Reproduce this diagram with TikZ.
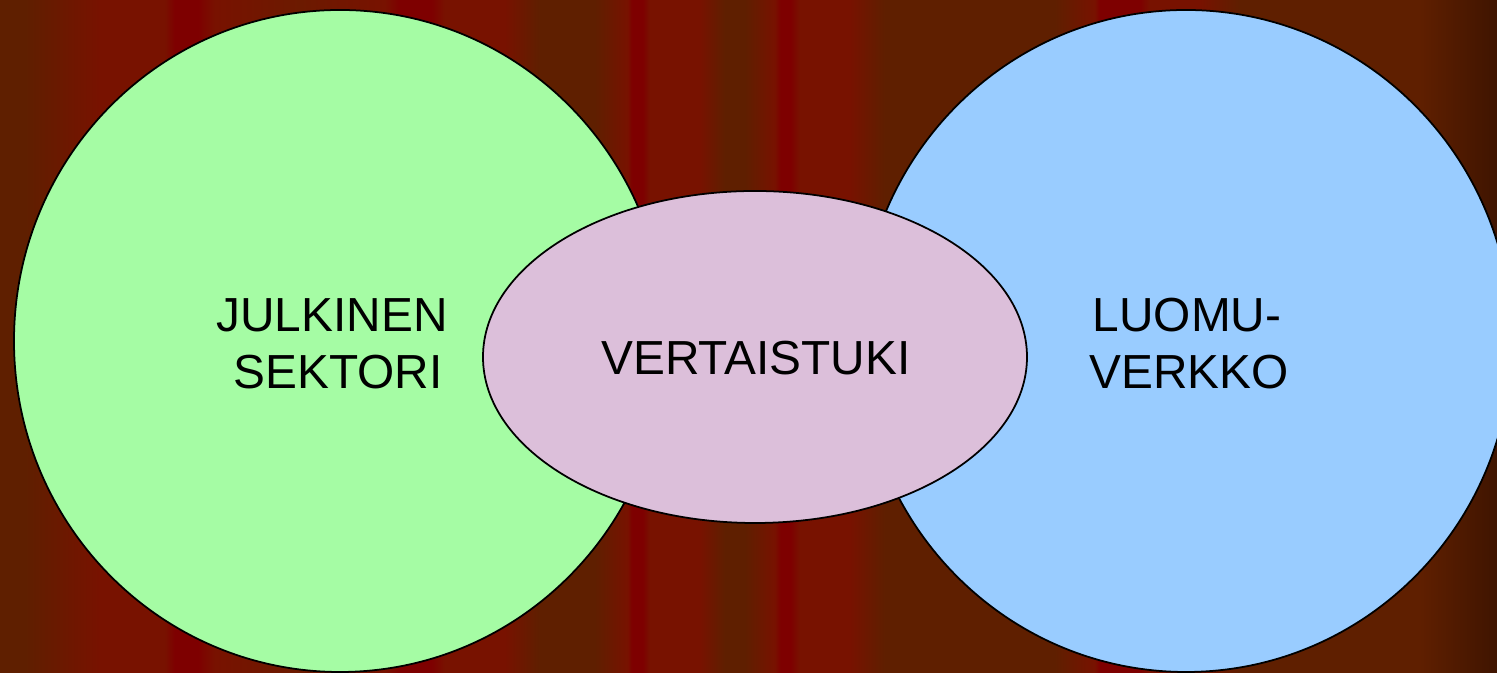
\documentclass[tikz,border=0pt]{standalone}
\usepackage{fontspec}
\setmainfont{Liberation Sans}
\definecolor{bgB}{RGB}{95,31,0}
\definecolor{bgR}{RGB}{120,18,0}
\definecolor{bgD}{RGB}{126,0,0}
\definecolor{bgM}{RGB}{108,26,0}
\definecolor{bgE}{RGB}{62,20,0}
\definecolor{julkgreen}{RGB}{165,252,164}
\definecolor{luomublue}{RGB}{153,204,255}
\definecolor{vertpink}{RGB}{220,191,218}
\pgfdeclarehorizontalshading{stripes}{6.75cm}{color(0cm)=(bgB); color(0.25cm)=(bgB);
  color(1cm)=(bgR); color(1.65cm)=(bgR); color(1.75cm)=(bgD); color(1.98cm)=(bgD);
  color(2.15cm)=(bgR); color(3cm)=(bgM); color(3.85cm)=(bgR); color(4cm)=(bgD);
  color(4.32cm)=(bgD); color(4.45cm)=(bgR); color(5.05cm)=(bgR); color(5.4cm)=(bgB);
  color(5.95cm)=(bgB); color(6.28cm)=(bgR); color(6.32cm)=(bgD); color(6.43cm)=(bgD);
  color(6.5cm)=(bgR); color(7cm)=(bgR); color(7.25cm)=(bgB); color(7.45cm)=(bgB);
  color(7.75cm)=(bgR); color(7.81cm)=(bgD); color(7.91cm)=(bgD); color(8cm)=(bgR);
  color(8.5cm)=(bgR); color(8.85cm)=(bgB); color(10.55cm)=(bgB); color(10.95cm)=(bgR);
  color(11cm)=(bgD); color(11.4cm)=(bgD); color(11.5cm)=(bgR); color(12cm)=(bgR);
  color(12.4cm)=(bgB); color(14.2cm)=(bgB); color(15cm)=(bgE)}
\tikzset{
  blob/.style={draw=black, line width=0.5pt},
  lbl/.style={font=\fontsize{13.6}{16}\selectfont, text=black, inner sep=0pt, anchor=base}
}
\begin{document}
\begin{tikzpicture}
			\useasboundingbox (0,0) rectangle (14.97,6.73);
			\clip (0,0) rectangle (14.97,6.73);
			\node [inner sep=0pt, anchor=south west] (bg) at (-0.01,-0.01) {\pgfuseshading{stripes}};
			\filldraw [blob, fill=julkgreen] (3.40,3.32) ellipse [x radius=3.26, y radius=3.31];
			\filldraw [blob, fill=luomublue] (11.86,3.32) ellipse [x radius=3.26, y radius=3.31];
			\filldraw [blob, fill=vertpink] (7.55,3.16) ellipse [x radius=2.72, y radius=1.66];
			\node [lbl] (julk) at (3.32,3.413) {JULKINEN};
			\node [lbl] (sekt) at (3.38,2.84) {SEKTORI};
			\node [lbl] (vert) at (7.56,2.98) {VERTAISTUKI};
			\node [lbl] (luomu) at (11.87,3.413) {LUOMU-};
			\node [lbl] (verkko) at (11.89,2.84) {VERKKO};
		\end{tikzpicture}
\end{document}
